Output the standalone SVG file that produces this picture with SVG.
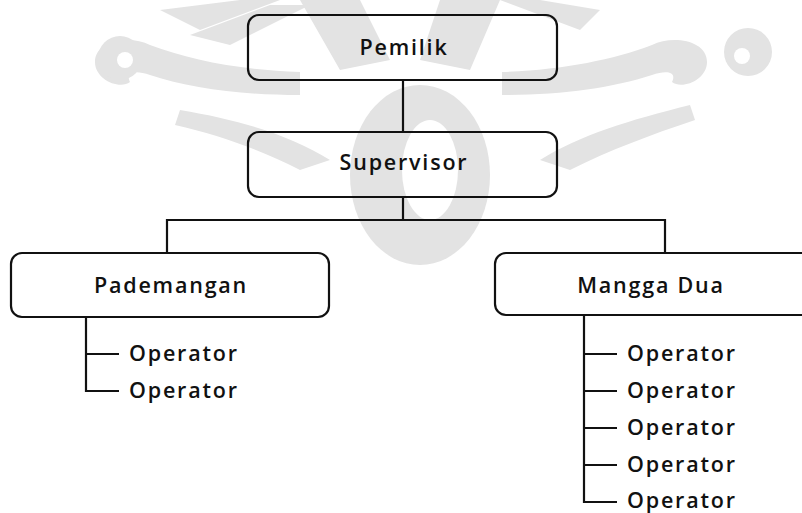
<svg xmlns="http://www.w3.org/2000/svg" width="802" height="513" viewBox="0 0 802 513">
<style>
.box{fill:none;stroke:#111;stroke-width:2.2}
.ln{fill:none;stroke:#111;stroke-width:2.2}
.t{font-family:"Open Sans","Liberation Sans",sans-serif;font-size:21.5px;font-weight:600;letter-spacing:1.8px;fill:#111}
.c{text-anchor:middle}
.wm{fill:#e3e3e3}
</style>
<rect width="802" height="513" fill="#fff"/>
<g id="watermark">
<path class="wm" d="M95,62 C95,40 130,35 150,45 C190,60 240,70 300,72 L300,95 C240,95 190,88 150,75 C135,70 125,72 130,82 C120,90 95,80 95,62 Z"/>
<circle class="wm" cx="120" cy="58" r="22"/>
<circle cx="125" cy="60" r="8" fill="#fff"/>
<path class="wm" d="M160,10 L240,0 L280,0 L200,30 Z M190,35 L270,5 L310,5 L230,45 Z"/>
<path class="wm" d="M180,110 C240,120 290,135 330,160 L300,170 C260,150 220,135 175,125 Z"/>
<path class="wm" d="M707,62 C707,40 672,35 652,45 C612,60 562,70 502,72 L502,95 C562,95 612,88 652,75 C667,70 677,72 672,82 C682,90 707,80 707,62 Z"/>
<circle class="wm" cx="748" cy="52" r="24"/>
<circle cx="742" cy="56" r="8" fill="#fff"/>
<path class="wm" d="M600,10 L540,0 L500,0 L580,30 Z"/>
<path class="wm" d="M690,105 C630,120 580,135 540,160 L570,170 C610,150 650,135 695,120 Z"/>
<ellipse class="wm" cx="420" cy="175" rx="70" ry="90"/>
<ellipse cx="430" cy="170" rx="28" ry="50" fill="#fff"/>
<path class="wm" d="M300,0 L360,0 L390,60 L340,70 Z M500,0 L440,0 L420,60 L470,70 Z"/>
</g>
<g id="connectors">
<path class="ln" d="M403,80 V132"/>
<path class="ln" d="M403,197 V220"/>
<path class="ln" d="M167,253 V220 H665 V253"/>
<path class="ln" d="M86,317 V391 H119 M86,354 H119"/>
<path class="ln" d="M584,315 V502 H617 M584,354 H617 M584,391 H617 M584,428 H617 M584,465 H617"/>
</g>
<g id="pemilik">
<rect class="box" x="248" y="15" width="309" height="65" rx="11"/>
<text class="t c" x="404" y="55">Pemilik</text>
</g>
<g id="supervisor">
<rect class="box" x="248" y="132" width="309" height="65" rx="11"/>
<text class="t c" x="404" y="170">Supervisor</text>
</g>
<g id="pademangan">
<rect class="box" x="11" y="253" width="318" height="64" rx="11"/>
<text class="t c" x="171" y="293">Pademangan</text>
</g>
<g id="manggadua">
<rect class="box" x="495" y="253" width="330" height="62" rx="11"/>
<text class="t c" x="651" y="293">Mangga Dua</text>
</g>
<g id="op-l1"><text class="t" x="129" y="361">Operator</text></g>
<g id="op-l2"><text class="t" x="129" y="398">Operator</text></g>
<g id="op-r1"><text class="t" x="627" y="361">Operator</text></g>
<g id="op-r2"><text class="t" x="627" y="398">Operator</text></g>
<g id="op-r3"><text class="t" x="627" y="435">Operator</text></g>
<g id="op-r4"><text class="t" x="627" y="472">Operator</text></g>
<g id="op-r5"><text class="t" x="627" y="508">Operator</text></g>
</svg>
